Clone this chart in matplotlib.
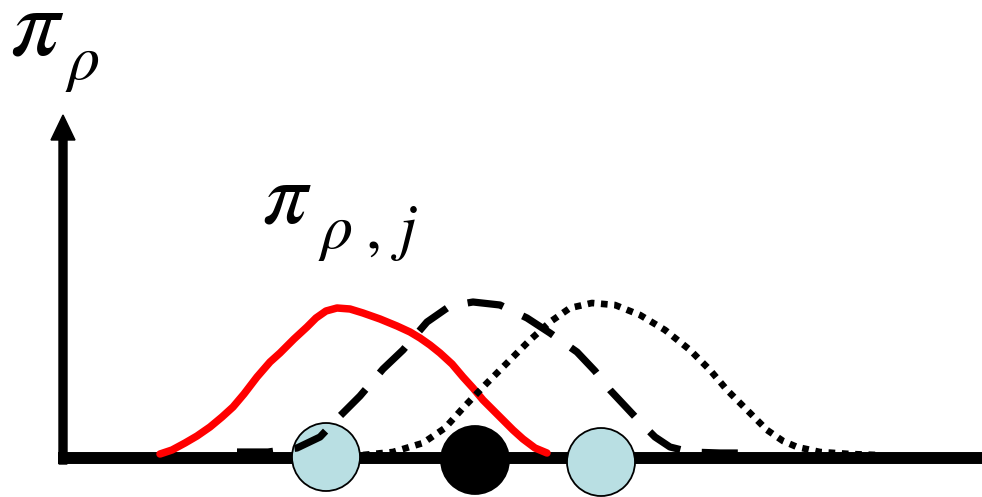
import matplotlib
matplotlib.use("Agg")
import matplotlib.pyplot as plt
from matplotlib.patches import Circle

plt.rcParams["mathtext.fontset"] = "stix"

# horizontal positions and heights above the baseline (drawing units)
red_x = [160, 172, 185, 197, 210, 222, 233, 244, 257, 270, 280, 294, 307, 316,
         326, 337, 350, 363, 380, 397, 410, 420, 430, 440, 452, 463, 473, 483,
         493, 503, 513, 523, 535, 547]
red_y = [4, 8, 15, 22, 31, 41, 51, 64, 81, 96, 105, 119, 131, 140,
         147, 150, 149, 145, 139, 132, 126, 120, 113, 105, 94, 81, 70, 58,
         48, 38, 28, 19, 10, 5]

dash_x = [237, 268, 297, 320, 337, 360, 383, 403, 427, 450, 473, 500, 527,
          550, 577, 595, 610, 625, 640, 655, 670, 690, 720, 757]
dash_y = [6, 6, 10, 21, 39, 62, 89, 108, 136, 152, 156, 153, 140,
          125, 106, 87, 68, 52, 36, 21, 11, 6, 5, 5]

dot_x = [363, 393, 423, 445, 463, 485, 507, 530, 550, 570, 592, 615, 640,
         665, 690, 710, 727, 747, 767, 783, 797, 820, 850, 877]
dot_y = [3, 6, 15, 30, 50, 73, 95, 118, 136, 150, 155, 153, 143,
         128, 108, 88, 68, 48, 28, 17, 11, 6, 4, 3]

site_x = [326, 475, 601]
site_y = [1, -2, -4]
site_col = ["#b9dfe3", "#000000", "#b9dfe3"]

fig = plt.figure(figsize=(9.82, 4.97), dpi=100)
ax = fig.add_axes([0, 0, 1, 1])
ax.set_xlim(0, 982)
ax.set_ylim(-39, 458)
ax.axis("off")

# axes: baseline and vertical arrow
ax.plot([58, 982], [0, 0], color="k", lw=8.6, solid_capstyle="butt", zorder=1)
ax.arrow(63, -6, 0, 349, width=8, head_width=24, head_length=25,
         length_includes_head=True, color="k", zorder=1)

for x, y, c in zip(site_x, site_y, site_col):
    ax.add_patch(Circle((x, y), 34, facecolor=c, edgecolor="k", lw=1.3, zorder=2))

ax.plot(red_x, red_y, color="#ff0000", lw=5.4, solid_joinstyle="round",
        solid_capstyle="round", zorder=3)
ax.plot(dash_x, dash_y, color="k", lw=5.2, linestyle=(0, (5, 3)),
        dash_capstyle="butt", zorder=3)
ax.plot(dot_x, dot_y, color="k", lw=4.8, linestyle=(0, (1, 1)),
        dash_capstyle="butt", zorder=3)

ax.text(10, 458 - 55, r"$\pi$", fontsize=70, ha="left", va="baseline")
ax.text(65, 458 - 79, r"$\rho$", fontsize=46, ha="left", va="baseline")
ax.text(262, 458 - 223, r"$\pi$", fontsize=64, ha="left", va="baseline")
ax.text(318, 458 - 248, r"$\rho\;,\,j$", fontsize=46, ha="left", va="baseline")

fig.savefig("out.png", dpi=100)
